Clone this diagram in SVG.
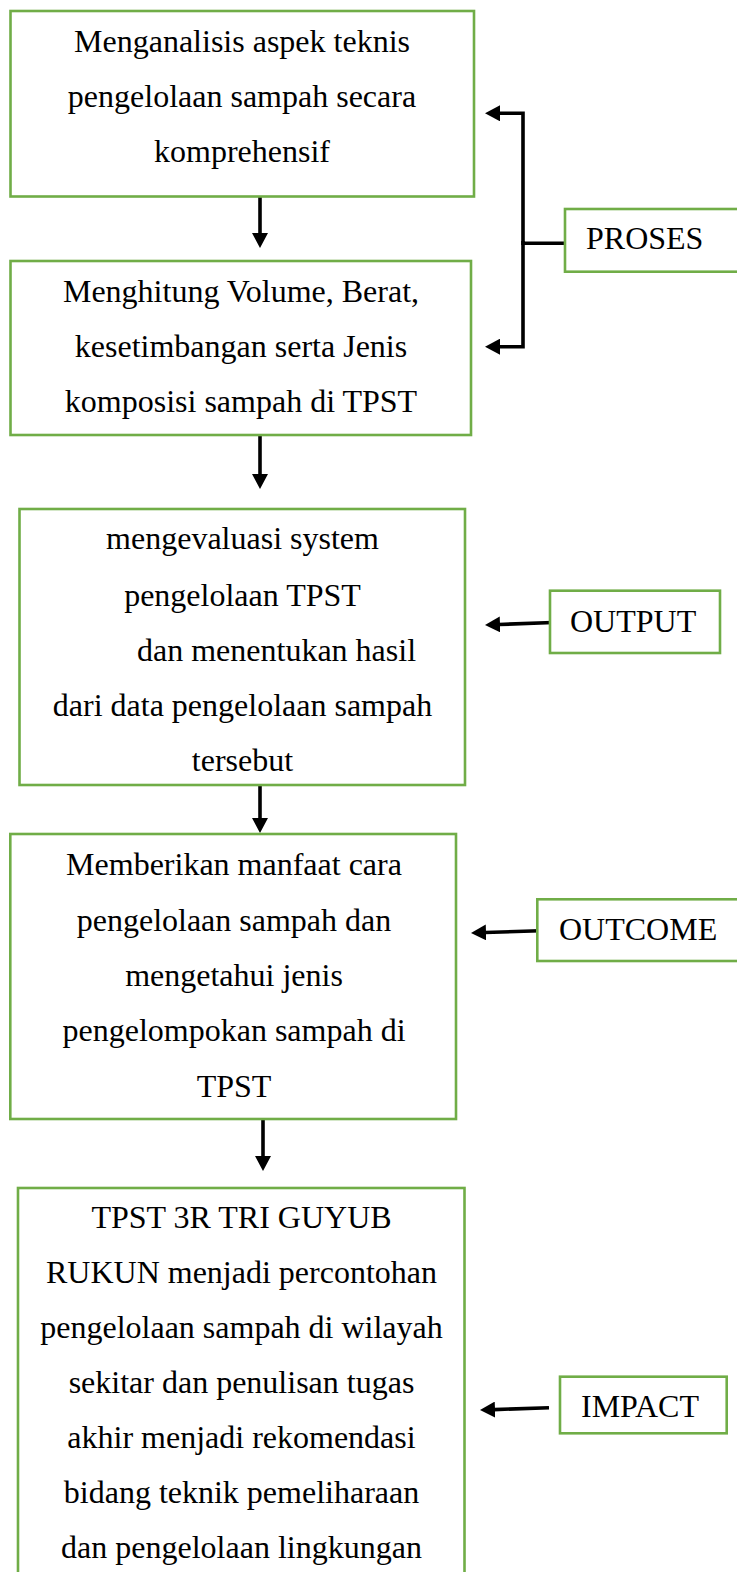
<svg xmlns="http://www.w3.org/2000/svg" width="737" height="1572" viewBox="0 0 737 1572">
  <defs>
    <style>
      .box { fill: #ffffff; stroke: #70AD47; stroke-width: 2.6; }
      .txt { font-family: "Liberation Serif", "Times New Roman", serif; font-size: 32px; fill: #000000; }
      .mid { text-anchor: middle; }
      .link { fill: none; stroke: #000000; stroke-width: 3.6; stroke-linejoin: miter; }
    </style>
    <marker id="head" viewBox="0 0 15 16" refX="1" refY="8" markerWidth="15" markerHeight="16" markerUnits="userSpaceOnUse" orient="auto">
      <path d="M0,0 L15,8 L0,16 z" fill="#000000"/>
    </marker>
  </defs>

  <rect width="737" height="1572" fill="#ffffff"/>

  <!-- connectors -->
  <g id="connectors">
    <!-- main vertical flow -->
    <path class="link" d="M260,196 V234" marker-end="url(#head)"/>
    <path class="link" d="M260,435 V475" marker-end="url(#head)"/>
    <path class="link" d="M260,785 V819" marker-end="url(#head)"/>
    <path class="link" d="M263,1119 V1157" marker-end="url(#head)"/>
    <!-- PROSES bracket -->
    <path class="link" d="M565,243.3 H523"/>
    <path class="link" d="M523,245 V113.3 H499" marker-end="url(#head)"/>
    <path class="link" d="M523,241 V346.7 H499" marker-end="url(#head)"/>
    <!-- side labels -->
    <path class="link" d="M553,622.5 L499,624.5" marker-end="url(#head)"/>
    <path class="link" d="M540,930.7 L485,932.5" marker-end="url(#head)"/>
    <path class="link" d="M549,1407.7 L494,1409.6" marker-end="url(#head)"/>
  </g>

  <g id="node-analisis">
    <rect class="box" x="10.5" y="11" width="463.5" height="185.5"/>
    <text class="txt mid" x="242" y="51.7">Menganalisis aspek teknis</text>
    <text class="txt mid" x="242" y="106.7">pengelolaan sampah secara</text>
    <text class="txt mid" x="242" y="161.7">komprehensif</text>
  </g>

  <g id="node-hitung">
    <rect class="box" x="10.5" y="261" width="460.5" height="174"/>
    <text class="txt mid" x="241" y="301.7">Menghitung Volume, Berat,</text>
    <text class="txt mid" x="241" y="356.7">kesetimbangan serta Jenis</text>
    <text class="txt mid" x="241" y="412">komposisi sampah di TPST</text>
  </g>

  <g id="node-evaluasi">
    <rect class="box" x="19.5" y="509" width="445.5" height="276"/>
    <text class="txt mid" x="242.5" y="549">mengevaluasi system</text>
    <text class="txt mid" x="242.5" y="606">pengelolaan TPST</text>
    <text class="txt" x="137" y="661">dan menentukan hasil</text>
    <text class="txt mid" x="242.5" y="716">dari data pengelolaan sampah</text>
    <text class="txt mid" x="242.5" y="771">tersebut</text>
  </g>

  <g id="node-manfaat">
    <rect class="box" x="10.3" y="834" width="445.7" height="285"/>
    <text class="txt mid" x="234" y="875">Memberikan manfaat cara</text>
    <text class="txt mid" x="234" y="930.7">pengelolaan sampah dan</text>
    <text class="txt mid" x="234" y="985.7">mengetahui jenis</text>
    <text class="txt mid" x="234" y="1041">pengelompokan sampah di</text>
    <text class="txt mid" x="234" y="1096.7">TPST</text>
  </g>

  <g id="node-dampak">
    <rect class="box" x="18" y="1188" width="446.5" height="420"/>
    <text class="txt mid" x="241.5" y="1228">TPST 3R TRI GUYUB</text>
    <text class="txt mid" x="241.5" y="1283">RUKUN menjadi percontohan</text>
    <text class="txt mid" x="241.5" y="1338">pengelolaan sampah di wilayah</text>
    <text class="txt mid" x="241.5" y="1393">sekitar dan penulisan tugas</text>
    <text class="txt mid" x="241.5" y="1448">akhir menjadi rekomendasi</text>
    <text class="txt mid" x="241.5" y="1503">bidang teknik pemeliharaan</text>
    <text class="txt mid" x="241.5" y="1558">dan pengelolaan lingkungan</text>
  </g>

  <g id="label-proses">
    <rect class="box" x="565" y="209" width="190" height="62.7"/>
    <text class="txt" x="586" y="249.3">PROSES</text>
  </g>

  <g id="label-output">
    <rect class="box" x="550" y="590.7" width="170" height="62.3"/>
    <text class="txt" x="570" y="632">OUTPUT</text>
  </g>

  <g id="label-outcome">
    <rect class="box" x="537.3" y="899.3" width="210" height="61.7"/>
    <text class="txt" x="559" y="940">OUTCOME</text>
  </g>

  <g id="label-impact">
    <rect class="box" x="560" y="1376.7" width="166.7" height="56.6"/>
    <text class="txt" x="581" y="1416.7">IMPACT</text>
  </g>
</svg>
